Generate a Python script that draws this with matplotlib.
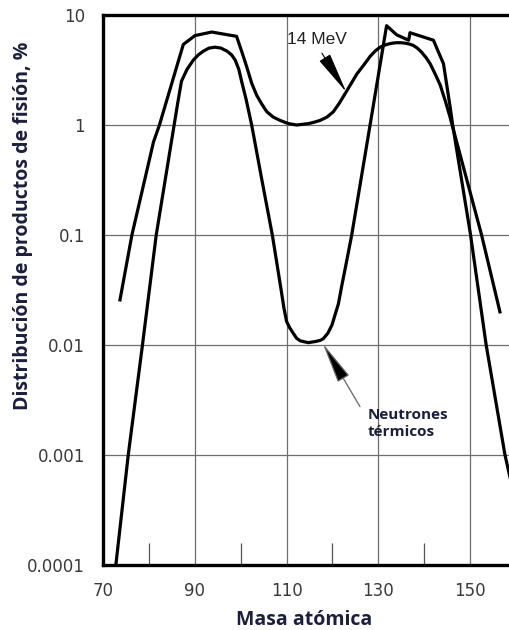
import matplotlib.pyplot as plt
from matplotlib.ticker import NullLocator

# Fission product yield vs. mass number, thermal neutrons and 14 MeV neutrons
thermal_mass = [72.8, 75.5, 78.6, 81.6, 85.5, 86.3, 87.1, 88.3, 89.7, 90.8,
                91.9, 93.1, 94.4, 95.7, 97.0, 98.0, 98.8, 99.6, 100.2, 101.2,
                102.4, 104.6, 106.9, 107.9, 108.8, 109.4, 110.0, 110.7, 111.5,
                112.2, 113.0, 114.75, 116.5, 117.3, 118.0, 119.0, 119.9, 120.6,
                121.3, 122.0, 123.1, 124.2, 128.2, 131.8, 134.0, 136.6, 136.9,
                142.0, 144.2, 145.6, 146.2, 150.1, 153.5, 157.6, 159.0]
thermal_yield = [1e-4, 1e-3, 1e-2, 0.1, 1.0, 1.6, 2.5, 3.2, 3.9, 4.35,
                 4.7, 5.0, 5.1, 5.0, 4.7, 4.35, 3.9, 3.2, 2.5, 1.7,
                 1.0, 0.32, 0.1, 0.055, 0.032, 0.022, 0.0164, 0.0143, 0.0127,
                 0.0115, 0.0109, 0.0105, 0.0108, 0.011, 0.0114, 0.0128, 0.0152, 0.019,
                 0.0237, 0.034, 0.058, 0.1, 1.0, 8.0, 6.6, 5.9, 6.9,
                 5.9, 3.6, 1.5, 1.0, 0.1, 0.01, 0.001, 5.5e-4]

mev14_mass = [73.7, 76.3, 81.0, 82.3, 85.0, 87.5, 90.05, 93.7, 99.1, 100.2,
              101.3, 102.4, 103.5, 104.6, 105.7, 107.1, 108.6, 110.4, 112.2,
              114.8, 116.0, 117.3, 118.8, 120.2, 121.5, 122.8, 124.0, 125.3,
              126.8, 128.2, 129.3, 130.4, 131.3, 132.2, 133.1, 134.0, 134.9,
              135.8, 136.7, 137.6, 138.5, 139.4, 140.4, 141.3, 142.4, 143.5,
              144.6, 145.6, 152.5, 156.5]
mev14_yield = [0.0257, 0.1, 0.70, 1.0, 2.4, 5.4, 6.5, 7.0, 6.4, 4.7,
               3.4, 2.4, 1.86, 1.55, 1.32, 1.18, 1.1, 1.03, 1.0,
               1.03, 1.06, 1.1, 1.18, 1.32, 1.58, 1.94, 2.35, 2.9,
               3.5, 4.2, 4.7, 5.1, 5.3, 5.45, 5.55, 5.6, 5.6,
               5.55, 5.45, 5.3, 5.0, 4.6, 4.1, 3.6, 2.9, 2.3,
               1.65, 1.19, 0.1, 0.02]

x_ticks = [70, 90, 110, 130, 150]
x_minor = [80, 100, 120, 140]
y_ticks = [0.0001, 0.001, 0.01, 0.1, 1, 10]
y_labels = ["0.0001", "0.001", "0.01", "0.1", "1", "10"]

label_color = "#1b1e3c"
tick_color = "#3a3a3a"

fig = plt.figure(figsize=(5.1, 6.3), dpi=100)
ax = fig.add_axes([103 / 510, 1 - 565 / 630, 413 / 510, 550 / 630])

ax.plot(thermal_mass, thermal_yield, color="black", lw=2.3,
        solid_joinstyle="round", zorder=3)
ax.plot(mev14_mass, mev14_yield, color="black", lw=2.3,
        solid_joinstyle="round", zorder=3)

ax.set_yscale("log")
ax.set_xlim(70, 160)
ax.set_ylim(1e-4, 10)

ax.set_xticks(x_ticks)
ax.set_xticks(x_minor, minor=True)
ax.set_yticks(y_ticks)
ax.set_yticklabels(y_labels)
ax.yaxis.set_minor_locator(NullLocator())

ax.tick_params(which="major", length=0, labelsize=12, labelcolor=tick_color)
ax.tick_params(axis="y", pad=13)
ax.tick_params(axis="x", pad=12)
ax.tick_params(which="minor", axis="x", direction="in", length=16,
               width=0.9, color="#555555")

ax.grid(True, which="major", color="#6e6e6e", lw=0.9)
ax.set_axisbelow(True)

for side in ["left", "top", "bottom"]:
    ax.spines[side].set_linewidth(2.4)
    ax.spines[side].set_color("black")
ax.spines["right"].set_visible(False)

ax.set_xlabel("Masa atómica", fontsize=14, fontweight="bold",
              family="Open Sans", color=label_color)
ax.xaxis.label.set_verticalalignment("center")
ax.xaxis.set_label_coords(0.487, -0.1)

ax.set_ylabel("Distribución de productos de fisión, %", fontsize=14,
              fontweight="bold", family="Open Sans", color=label_color)
ax.yaxis.label.set_verticalalignment("center")
ax.yaxis.set_label_coords(-0.194, 0.616)

# curve labels with arrows
ax.text(116.6, 6.0, "14 MeV", fontsize=12.5, family="Liberation Sans",
        color="#222222", ha="center", va="center")
ax.annotate("", xy=(123.0, 2.0), xytext=(117.7, 4.5),
            arrowprops=dict(arrowstyle="-|>,head_length=2.6,head_width=0.4",
                            mutation_scale=10, lw=0.8, color="black",
                            shrinkA=0, shrinkB=0))

ax.text(127.7, 0.0027, "Neutrones\ntérmicos", fontsize=11, fontweight="bold",
        family="Open Sans", color=label_color, ha="left", va="top",
        linespacing=1.35)
ax.annotate("", xy=(117.9, 0.0103), xytext=(126.0, 0.00275),
            arrowprops=dict(arrowstyle="-|>,head_length=2.6,head_width=0.42",
                            mutation_scale=10, lw=0.9, ec="#666666",
                            fc="black", shrinkA=0, shrinkB=0))

fig.savefig("out.png", dpi=100)
